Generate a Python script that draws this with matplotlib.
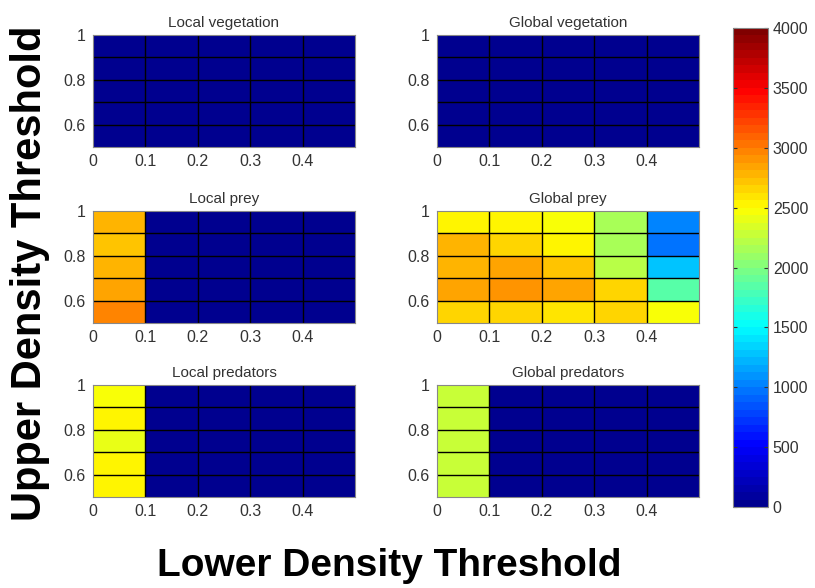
import numpy as np
import matplotlib.pyplot as plt
from matplotlib.colors import LinearSegmentedColormap

plt.rcParams['font.family'] = ['Liberation Sans', 'DejaVu Sans']

# cell edges of the threshold grid
lower_edges = [0.0, 0.1, 0.2, 0.3, 0.4, 0.5]
upper_edges = [0.5, 0.6, 0.7, 0.8, 0.9, 1.0]

# values, rows from upper threshold 0.5-0.6 (bottom) to 0.9-1.0 (top)
local_vegetation = [[0, 0, 0, 0, 0]] * 5
global_vegetation = [[0, 0, 0, 0, 0]] * 5
local_prey = [
    [2950, 0, 0, 0, 0],
    [2870, 0, 0, 0, 0],
    [2800, 0, 0, 0, 0],
    [2700, 0, 0, 0, 0],
    [2750, 0, 0, 0, 0],
]
global_prey = [
    [2640, 2660, 2620, 2680, 2440],
    [2850, 2910, 2830, 2660, 1850],
    [2800, 2830, 2700, 2200, 1250],
    [2750, 2660, 2500, 2180, 970],
    [2500, 2500, 2480, 2180, 1000],
]
local_predators = [
    [2500, 0, 0, 0, 0],
    [2500, 0, 0, 0, 0],
    [2430, 0, 0, 0, 0],
    [2500, 0, 0, 0, 0],
    [2450, 0, 0, 0, 0],
]
global_predators = [
    [2280, 0, 0, 0, 0],
    [2250, 0, 0, 0, 0],
    [2280, 0, 0, 0, 0],
    [2250, 0, 0, 0, 0],
    [2250, 0, 0, 0, 0],
]

panels = [
    ("Local vegetation", local_vegetation),
    ("Global vegetation", global_vegetation),
    ("Local prey", local_prey),
    ("Global prey", global_prey),
    ("Local predators", local_predators),
    ("Global predators", global_predators),
]

# MATLAB-style jet, 64 levels
cmap = LinearSegmentedColormap('matlab_jet', {
    'red':   [(0, 0, 0), (3 / 8, 0, 0), (5 / 8, 1, 1), (7 / 8, 1, 1), (1, 0.5, 0.5)],
    'green': [(0, 0, 0), (1 / 8, 0, 0), (3 / 8, 1, 1), (5 / 8, 1, 1), (7 / 8, 0, 0), (1, 0, 0)],
    'blue':  [(0, 0.5625, 0.5625), (1 / 8, 1, 1), (3 / 8, 1, 1), (5 / 8, 0, 0), (1, 0, 0)],
}, N=64)

W, H = 815, 588
fig = plt.figure(figsize=(W / 100, H / 100), dpi=100)

col_left = [93, 437]
row_top = [35, 211, 385]
pw, ph = 262, 112

mesh = None
for i, (title, vals) in enumerate(panels):
    r, c = divmod(i, 2)
    ax = fig.add_axes([col_left[c] / W, 1 - (row_top[r] + ph) / H, pw / W, ph / H])
    mesh = ax.pcolormesh(lower_edges, upper_edges, np.array(vals), cmap=cmap,
                         vmin=0, vmax=4000)
    # black cell borders like MATLAB pcolor
    for xe in lower_edges[1:-1]:
        ax.axvline(xe, color='black', linewidth=1.0)
    for ye in upper_edges[1:-1]:
        ax.axhline(ye, color='black', linewidth=1.0)
    ax.set_xlim(0, 0.5)
    ax.set_ylim(0.5, 1.0)
    ax.set_xticks([0, 0.1, 0.2, 0.3, 0.4])
    ax.set_xticklabels(['0', '0.1', '0.2', '0.3', '0.4'])
    ax.set_yticks([0.6, 0.8, 1.0])
    ax.set_yticklabels(['0.6', '0.8', '1'])
    ax.tick_params(direction='in', length=0, labelsize=11.5, labelcolor='#333333', pad=5)
    ax.set_title(title, fontsize=11, color='#333333', pad=6)
    for s in ax.spines.values():
        s.set_color('#888888')

cax = fig.add_axes([733 / W, 1 - 507 / H, 35 / W, 479 / H])
cb = fig.colorbar(mesh, cax=cax, ticks=np.arange(0, 4001, 500))
cb.outline.set_edgecolor('#888888')
cax.tick_params(direction='in', left=True, right=True, length=3, labelsize=11.5,
                labelcolor='#333333', color='#333333')

fig.text(0.037, 0.535, 'Upper Density Threshold', rotation=90, ha='center', va='center',
         fontsize=30, fontweight='bold')
fig.text(0.477, 0.038, 'Lower Density Threshold', ha='center', va='center',
         fontsize=28, fontweight='bold')

fig.savefig('out.png', dpi=100)
